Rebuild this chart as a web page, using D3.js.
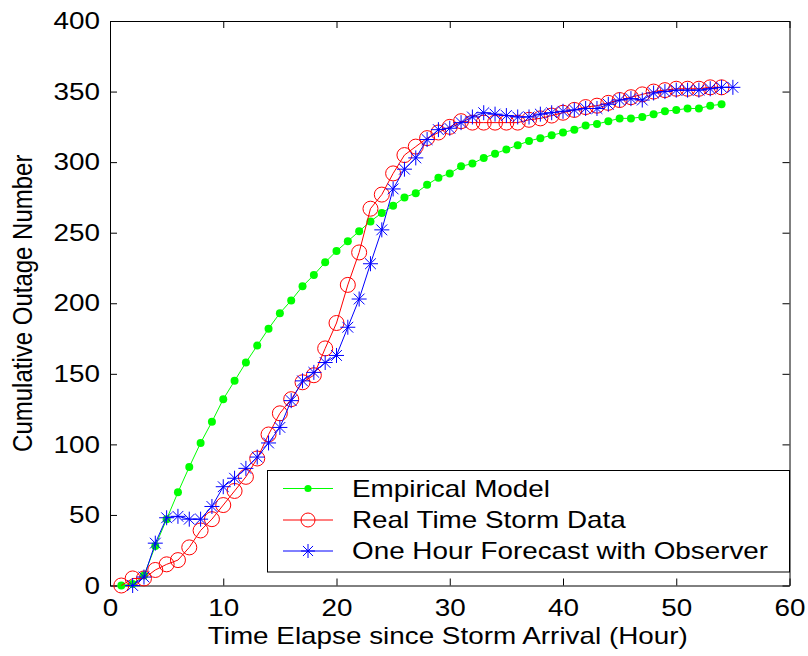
<!DOCTYPE html>
<html>
<head>
<meta charset="utf-8">
<script src="https://cdn.jsdelivr.net/npm/d3@7"></script>
<style>
  html, body { margin: 0; padding: 0; background: #fff; }
  svg { display: block; }
  text { font-family: "Liberation Sans", Arial, sans-serif; fill: #000; }
</style>
</head>
<body>
<svg id="chart" width="808" height="656"></svg>
<script>
// Cumulative outage counts by hour since storm arrival
const empiricalHours = d3.range(1, 55);
const empiricalModel = [
  0, 1, 7, 28, 47, 66, 84, 101, 116, 132,
  145, 158, 170, 182, 193, 202, 212, 220, 229, 237,
  244, 251, 258, 264, 269, 275, 278, 284, 289, 292,
  297, 299, 303, 306, 309, 312, 315, 317, 319, 321,
  323, 326, 327, 329, 331, 331, 332, 334, 336, 337,
  338, 338, 340, 341
];

const realHours = d3.range(1, 55);
const realTimeData = [
  0, 5, 5, 11, 15, 18, 27, 39, 47, 57,
  67, 77, 90, 107, 122, 132, 144, 149, 168, 186,
  213, 236, 267, 277, 292, 305, 311, 317, 321, 325,
  329, 328, 328, 328, 328, 328, 330, 331, 333, 335,
  337, 339, 340, 342, 344, 346, 348, 350, 351, 352,
  352, 352, 353, 353
];

const forecastHours = d3.range(2, 56);
const forecastObserver = [
  0, 6, 30, 48, 49, 47, 47, 56, 70, 76,
  83, 91, 101, 112, 131, 145, 151, 158, 163, 183,
  203, 228, 252, 281, 295, 303, 316, 323, 324, 328,
  332, 335, 334, 333, 332, 332, 334, 335, 336, 337,
  338, 338, 341, 344, 345, 344, 349, 350, 351, 351,
  351, 352, 353, 353
];

const xTicks = [0, 10, 20, 30, 40, 50, 60];
const yTicks = [0, 50, 100, 150, 200, 250, 300, 350, 400];
const seriesNames = ["Empirical Model", "Real Time Storm Data", "One Hour Forecast with Observer"];
const xTitle = "Time Elapse since Storm Arrival (Hour)";
const yTitle = "Cumulative Outage Number";

// layout
const plotLeft = 110, plotRight = 789.5, plotTop = 21, plotBottom = 585.5;
const fontSize = 24, stretch = 1.16;
const svg = d3.select("#chart");

const x = d3.scaleLinear().domain([0, 60]).range([plotLeft, plotRight]);
const y = d3.scaleLinear().domain([0, 400]).range([plotBottom, plotTop]);

// axes: inward ticks on all four sides, labels on bottom and left
const styleAxis = g => {
  g.select(".domain").attr("stroke", "#000").attr("stroke-width", 1);
  g.selectAll(".tick line").attr("stroke", "#000").attr("stroke-width", 1);
  g.selectAll(".tick text")
    .attr("font-size", fontSize)
    .attr("font-family", "Liberation Sans, Arial, sans-serif")
    .attr("fill", "#000");
};

svg.append("g")
  .attr("transform", `translate(0,${plotBottom})`)
  .call(d3.axisBottom(x).tickValues(xTicks).tickFormat(d3.format("d"))
        .tickSizeInner(-7).tickSizeOuter(0).tickPadding(13))
  .call(styleAxis)
  .call(g => g.selectAll(".tick text").attr("transform", `scale(${stretch},1)`));

svg.append("g")
  .attr("transform", `translate(${plotLeft},0)`)
  .call(d3.axisLeft(y).tickValues(yTicks).tickFormat(d3.format("d"))
        .tickSizeInner(-7).tickSizeOuter(0).tickPadding(8.6))
  .call(styleAxis)
  .call(g => g.selectAll(".tick text").attr("transform", `scale(${stretch},1)`));

svg.append("g")
  .attr("transform", `translate(0,${plotTop})`)
  .call(d3.axisTop(x).tickValues(xTicks).tickFormat("").tickSizeInner(-7).tickSizeOuter(0))
  .call(styleAxis);

svg.append("g")
  .attr("transform", `translate(${plotRight},0)`)
  .call(d3.axisRight(y).tickValues(yTicks).tickFormat("").tickSizeInner(-7).tickSizeOuter(0))
  .call(styleAxis);

// axis titles
svg.append("text")
  .attr("transform", `translate(${(plotLeft + plotRight) / 2 - 2},644) scale(${stretch},1)`)
  .attr("text-anchor", "middle")
  .attr("font-size", fontSize)
  .text(xTitle);

svg.append("text")
  .attr("transform", `translate(32,${(plotTop + plotBottom) / 2}) rotate(-90) scale(1,${stretch})`)
  .attr("text-anchor", "middle")
  .attr("font-size", fontSize)
  .text(yTitle);

// series
const line = d3.line().x(d => x(d[0])).y(d => y(d[1]));
const zip = (xs, ys) => xs.map((h, i) => [h, ys[i]]);

const empPts = zip(empiricalHours, empiricalModel);
const realPts = zip(realHours, realTimeData);
const fcPts = zip(forecastHours, forecastObserver);

const plot = svg.append("g");

// marker painters
function dot(g, cx, cy, r) {
  g.append("circle").attr("cx", cx).attr("cy", cy).attr("r", r).attr("fill", "#00ff00");
}
function ring(g, cx, cy, r) {
  g.append("circle").attr("cx", cx).attr("cy", cy).attr("r", r)
    .attr("fill", "none").attr("stroke", "#ff0000").attr("stroke-width", 1);
}
function star(g, cx, cy, s) {
  const d = s * 0.72;
  g.append("path")
    .attr("d", `M${cx - s},${cy}H${cx + s}M${cx},${cy - s}V${cy + s}` +
               `M${cx - d},${cy - d}L${cx + d},${cy + d}M${cx - d},${cy + d}L${cx + d},${cy - d}`)
    .attr("stroke", "#0000ff").attr("stroke-width", 1).attr("fill", "none");
}

// empirical model
plot.append("path").datum(empPts).attr("d", line)
  .attr("fill", "none").attr("stroke", "#00ff00").attr("stroke-width", 1);
const gEmp = plot.append("g");
empPts.forEach(p => dot(gEmp, x(p[0]), y(p[1]), 4));

// real-time storm data
plot.append("path").datum(realPts).attr("d", line)
  .attr("fill", "none").attr("stroke", "#ff0000").attr("stroke-width", 1);
const gReal = plot.append("g");
realPts.forEach(p => ring(gReal, x(p[0]), y(p[1]), 7.5));

// one-hour forecast
plot.append("path").datum(fcPts).attr("d", line)
  .attr("fill", "none").attr("stroke", "#0000ff").attr("stroke-width", 1);
const gFc = plot.append("g");
fcPts.forEach(p => star(gFc, x(p[0]), y(p[1]), 7.5));

// legend
const legend = svg.append("g");
legend.append("rect")
  .attr("x", 267.5).attr("y", 470.5).attr("width", plotRight - 267.5).attr("height", 101.5)
  .attr("fill", "#fff").attr("stroke", "#000").attr("stroke-width", 1);

const rowY = [488.5, 520, 551];
const painters = [
  (g, cx, cy) => dot(g, cx, cy, 3.6),
  (g, cx, cy) => ring(g, cx, cy, 7),
  (g, cx, cy) => star(g, cx, cy, 7)
];
const colors = ["#00ff00", "#ff0000", "#0000ff"];
seriesNames.forEach((name, i) => {
  const cy = rowY[i];
  legend.append("line").attr("x1", 283).attr("x2", 333).attr("y1", cy).attr("y2", cy)
    .attr("stroke", colors[i]).attr("stroke-width", 1);
  painters[i](legend, 308, cy);
  legend.append("text")
    .attr("transform", `translate(352,${cy + 8}) scale(${stretch},1)`)
    .attr("font-size", fontSize)
    .text(name);
});
</script>
</body>
</html>
